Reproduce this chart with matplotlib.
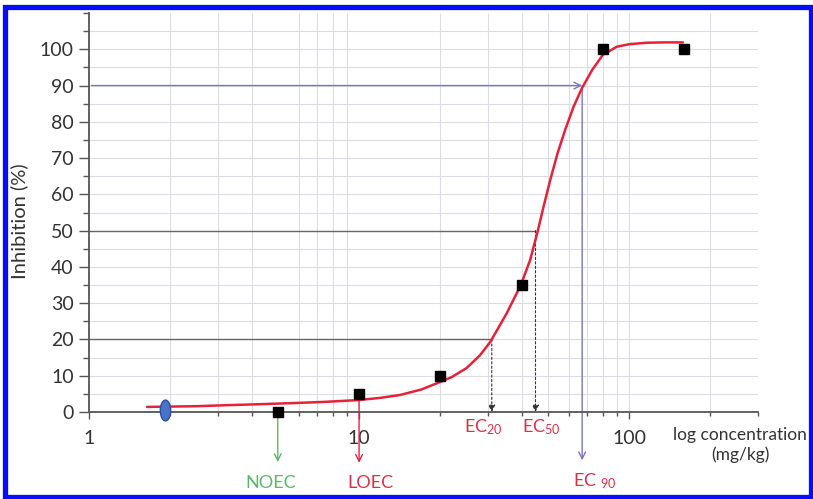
import numpy as np
import matplotlib.pyplot as plt
from matplotlib.path import Path
from matplotlib.transforms import Affine2D
from matplotlib.patches import Rectangle

plt.rcParams['font.family'] = ['Lato', 'DejaVu Sans']
plt.rcParams['mathtext.fontset'] = 'custom'
plt.rcParams['mathtext.rm'] = 'Lato'
plt.rcParams['mathtext.it'] = 'Lato:italic'
plt.rcParams['mathtext.bf'] = 'Lato:bold'

# measured points
conc = [5, 10, 20, 40, 80, 160]
inhib = [0, 5, 10, 35, 100, 100]

# fitted curve
curve_x = [1.64, 2.5, 3.3, 4.5, 5.9, 7.5, 10, 12, 14.2, 17, 20, 22, 25, 28, 30.6,
           35.2, 39.7, 43.0, 45.8, 48.2, 51.0, 54.3, 57.9, 62.2, 66.8, 72.8, 80,
           90, 100, 116, 135, 158]
curve_y = [1.4, 1.6, 1.9, 2.2, 2.5, 2.8, 3.3, 3.9, 4.7, 6.2, 8.3, 9.6, 12.1, 15.6, 19.3,
           27.2, 35, 41.9, 49.7, 56.6, 63.9, 71.3, 77.7, 84.1, 89.2, 94.2, 98.5,
           100.7, 101.4, 101.8, 101.9, 101.9]

# control point (blue ellipse)
ctrl_x, ctrl_y = 1.91, 0.55

ec20, ec50, ec90 = 31, 45, 67
noec, loec = 5, 10

grid_x = [2, 3, 4, 6, 7, 8, 9, 20, 30, 40, 50, 60, 70, 80, 90, 100, 200]
tick_minor_x = [2, 3, 4, 5, 6, 7, 8, 9, 20, 30, 40, 50, 60, 70, 80, 90, 200, 300]

red = '#e5223a'
lab_red = '#d9304a'
green = '#5cb56a'
blue_arrow = '#7a74c2'
axis_col = '#555555'
txt_col = '#333333'

fig = plt.figure(figsize=(8.13, 4.99), dpi=100)
ax = fig.add_axes([89/813, 87/499, 669/813, 399/499])
ax.set_xscale('log')
ax.set_xlim(1, 300)
ax.set_ylim(0, 110)

# grid
ax.vlines(grid_x, 0, 110, color='#dcdce6', lw=0.8, zorder=0)
ax.hlines(np.arange(5, 110, 5), 1, 300, color='#dcdce6', lw=0.8, zorder=0)

# spines / ticks
for s in ['top', 'right']:
    ax.spines[s].set_visible(False)
for s in ['left', 'bottom']:
    ax.spines[s].set_color(axis_col)
    ax.spines[s].set_linewidth(1.3)

ax.set_xticks([1, 10, 100])
ax.set_xticklabels(['1', '10', '100'])
ax.set_xticks(tick_minor_x, minor=True)
ax.xaxis.set_minor_formatter(plt.NullFormatter())
ax.set_yticks(np.arange(0, 101, 10))
ax.set_yticks(list(np.arange(5, 110, 10)) + [110], minor=True)
ax.tick_params(axis='x', which='major', length=5, width=1, color=axis_col,
               labelsize=14, labelcolor=txt_col, pad=8)
ax.tick_params(axis='x', which='minor', length=3, width=1, color=axis_col)
ax.tick_params(axis='y', which='major', length=7, width=1, color=axis_col,
               labelsize=14, labelcolor=txt_col, pad=4)
ax.tick_params(axis='y', which='minor', length=4, width=1, color=axis_col)

fig.text(19/813, (499 - 221)/499, 'Inhibition (%)', rotation=90, ha='center',
         va='center', fontsize=14.5, color=txt_col)

# reference lines for EC20 / EC50
ax.plot([1, ec20], [20, 20], color='#666666', lw=1, zorder=2)
ax.plot([1, ec50], [50, 50], color='#666666', lw=1, zorder=2)
for xv, yv in [(ec20, 20), (ec50, 50)]:
    ax.annotate('', xy=(xv, 0), xytext=(xv, yv),
                arrowprops=dict(arrowstyle='-|>', color='#333333', lw=0.8,
                                linestyle=(0, (2, 2)), mutation_scale=10,
                                shrinkA=0, shrinkB=0), zorder=2)

# EC90 arrows
ax.annotate('', xy=(ec90, 90), xytext=(1.02, 90),
            arrowprops=dict(arrowstyle='->', color=blue_arrow, lw=1,
                            mutation_scale=12, shrinkA=0, shrinkB=0), zorder=2)
ax.annotate('', xy=(ec90, -13.3), xytext=(ec90, 90),
            arrowprops=dict(arrowstyle='->', color=blue_arrow, lw=1,
                            mutation_scale=12, shrinkA=0, shrinkB=0),
            annotation_clip=False, zorder=2)

# NOEC / LOEC arrows
ax.annotate('', xy=(noec, -13.8), xytext=(noec, 0),
            arrowprops=dict(arrowstyle='->', color=green, lw=1,
                            mutation_scale=12, shrinkA=0, shrinkB=0),
            annotation_clip=False, zorder=2)
ax.annotate('', xy=(loec, -14), xytext=(loec, 5),
            arrowprops=dict(arrowstyle='->', color=red, lw=1,
                            mutation_scale=12, shrinkA=0, shrinkB=0),
            annotation_clip=False, zorder=2)

# curve and points
ax.plot(curve_x, curve_y, color=red, lw=1.8, zorder=3, solid_capstyle='round',
        solid_joinstyle='round')
ax.plot(conc, inhib, 's', color='black', ms=6.5, zorder=4, clip_on=False)
ell = Path.unit_circle().transformed(Affine2D().scale(0.5, 1.0))
ax.plot([ctrl_x], [ctrl_y], marker=ell, ms=15, color='#4a72c8',
        mec='#2f4f9f', mew=1, zorder=4, clip_on=False)

# labels
ax.text(28.8, -4.3, r'EC$_{20}$', color=lab_red, fontsize=13, ha='center', va='center')
ax.text(47.4, -4.3, r'EC$_{50}$', color=lab_red, fontsize=13, ha='center', va='center')
ax.text(74.8, -19.2, r'EC $_{90}$', color=lab_red, fontsize=13, ha='center', va='center')
ax.text(4.72, -19.6, 'NOEC', color=green, fontsize=13, ha='center', va='center')
ax.text(11.03, -19.6, 'LOEC', color=lab_red, fontsize=13, ha='center', va='center')
ax.text(258, -9.2, 'log concentration\n(mg/kg)', color=txt_col, fontsize=12.5,
        ha='center', va='center', linespacing=1.25)

# blue frame
fig.patches.append(Rectangle((5/813, 2/499), 806/813, 490/499, transform=fig.transFigure,
                             fill=False, edgecolor='#0a0aff', lw=3.8))

fig.savefig('out.png', dpi=100)
